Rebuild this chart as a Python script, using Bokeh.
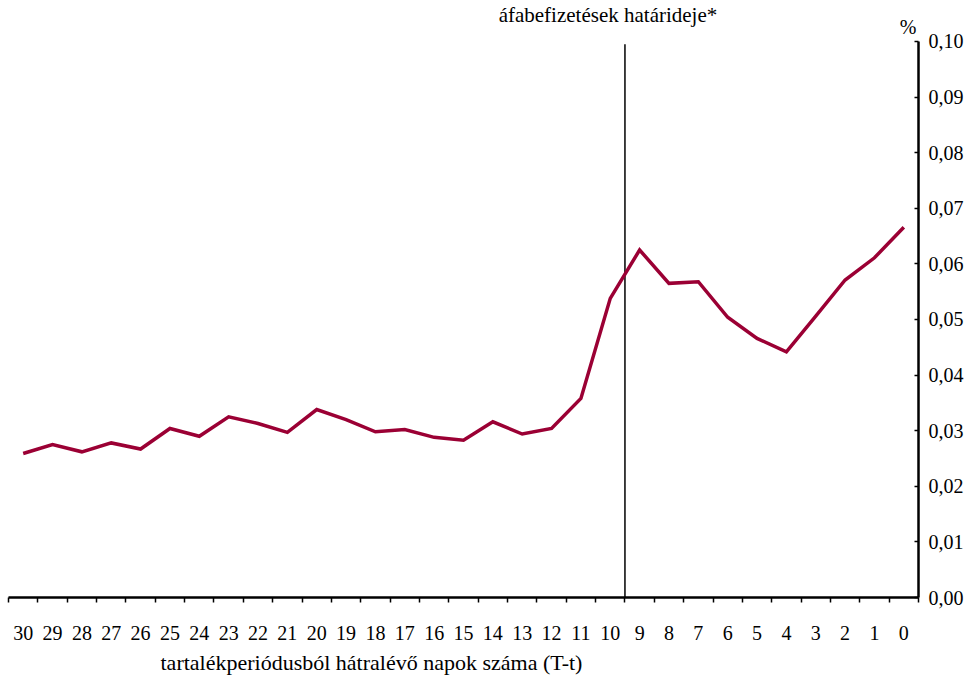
from bokeh.plotting import figure
from bokeh.models import (ColumnDataSource, Range1d, LinearAxis, FixedTicker,
                          CustomJSTickFormatter, Label, Title)
from bokeh.embed import file_html
from bokeh.resources import INLINE

# ---- data ----
days = [30, 29, 28, 27, 26, 25, 24, 23, 22, 21, 20, 19, 18, 17, 16, 15,
        14, 13, 12, 11, 10, 9, 8, 7, 6, 5, 4, 3, 2, 1, 0]
values = [0.0259, 0.0275, 0.0262, 0.0278, 0.0267, 0.0304, 0.0290, 0.0325,
          0.0313, 0.0297, 0.0338, 0.0320, 0.0298, 0.0302, 0.0288, 0.0283,
          0.0316, 0.0294, 0.0304, 0.0358, 0.0538, 0.0625, 0.0565, 0.0568,
          0.0504, 0.0466, 0.0442, 0.0506, 0.0571, 0.0611, 0.0666]
y_ticks = [0.00, 0.01, 0.02, 0.03, 0.04, 0.05, 0.06, 0.07, 0.08, 0.09, 0.10]
deadline_x = [9.5]          # boundary between day 10 and day 9
deadline_y0 = [0.0]
deadline_y1 = [0.0995]
deadline_text = "áfabefizetések határideje*"
x_title = "tartalékperiódusból hátralévő  napok száma (T-t)"
unit_text = "%"

FONT = "Liberation Serif"
LINE_COLOR = "#9b0034"

p = figure(width=967, height=679, output_backend="svg", toolbar_location=None,
           x_range=Range1d(30.5, -0.5), y_range=Range1d(0.0, 0.10737),
           y_axis_location=None, x_axis_location=None,
           min_border_left=8, min_border_right=49, min_border_top=0,
           min_border_bottom=81)
p.outline_line_color = None
p.xgrid.visible = False
p.ygrid.visible = False
p.background_fill_color = "white"
p.border_fill_color = "white"

# x axis: labels at category centres, tick marks at category boundaries
xax = LinearAxis(ticker=FixedTicker(ticks=days,
                                    minor_ticks=[d + 0.5 for d in range(-1, 31)]))
xax.axis_line_color = "black"
xax.axis_line_width = 2.5
xax.major_tick_line_color = None
xax.minor_tick_line_color = "black"
xax.minor_tick_line_width = 1.5
xax.minor_tick_in = 0
xax.minor_tick_out = 5
xax.major_label_standoff = 22
xax.major_label_text_font = FONT
xax.major_label_text_font_size = "20px"
xax.major_label_text_color = "black"
p.add_layout(xax, "below")

# y axis on the right
yax = LinearAxis(ticker=FixedTicker(ticks=y_ticks), bounds=(0.0, 0.10),
                 formatter=CustomJSTickFormatter(
                     code="return tick.toFixed(2).replace('.', ',');"))
yax.axis_line_color = "black"
yax.axis_line_width = 2.5
yax.major_tick_line_color = "black"
yax.major_tick_line_width = 1.5
yax.major_tick_in = 4
yax.major_tick_out = 0
yax.minor_tick_line_color = None
yax.major_label_standoff = 10
yax.major_label_text_font = FONT
yax.major_label_text_font_size = "20px"
yax.major_label_text_color = "black"
p.add_layout(yax, "right")

# deadline line
dsrc = ColumnDataSource(dict(x=deadline_x, y0=deadline_y0, y1=deadline_y1))
p.segment(x0="x", y0="y0", x1="x", y1="y1", source=dsrc,
          line_color="black", line_width=1.5)

# series
src = ColumnDataSource(dict(x=days, y=values))
p.line("x", "y", source=src, line_color=LINE_COLOR, line_width=3.5,
       line_join="miter")

# texts
p.add_layout(Label(x=deadline_x[0], y=0.10, x_offset=-17, y_offset=26,
                   text=deadline_text, text_align="center",
                   text_baseline="alphabetic", text_font=FONT,
                   text_font_size="21px", text_color="black"))
p.add_layout(Label(x=-0.5, y=0.10, x_offset=-2, y_offset=14,
                   text=unit_text, text_align="right",
                   text_baseline="alphabetic", text_font=FONT,
                   text_font_size="20px", text_color="black"))
p.add_layout(Title(text=x_title, align="left", offset=152, standoff=10,
                   text_font=FONT, text_font_size="22px",
                   text_font_style="normal", text_color="black"), "below")

open("out.html", "w").write(file_html(p, INLINE))
